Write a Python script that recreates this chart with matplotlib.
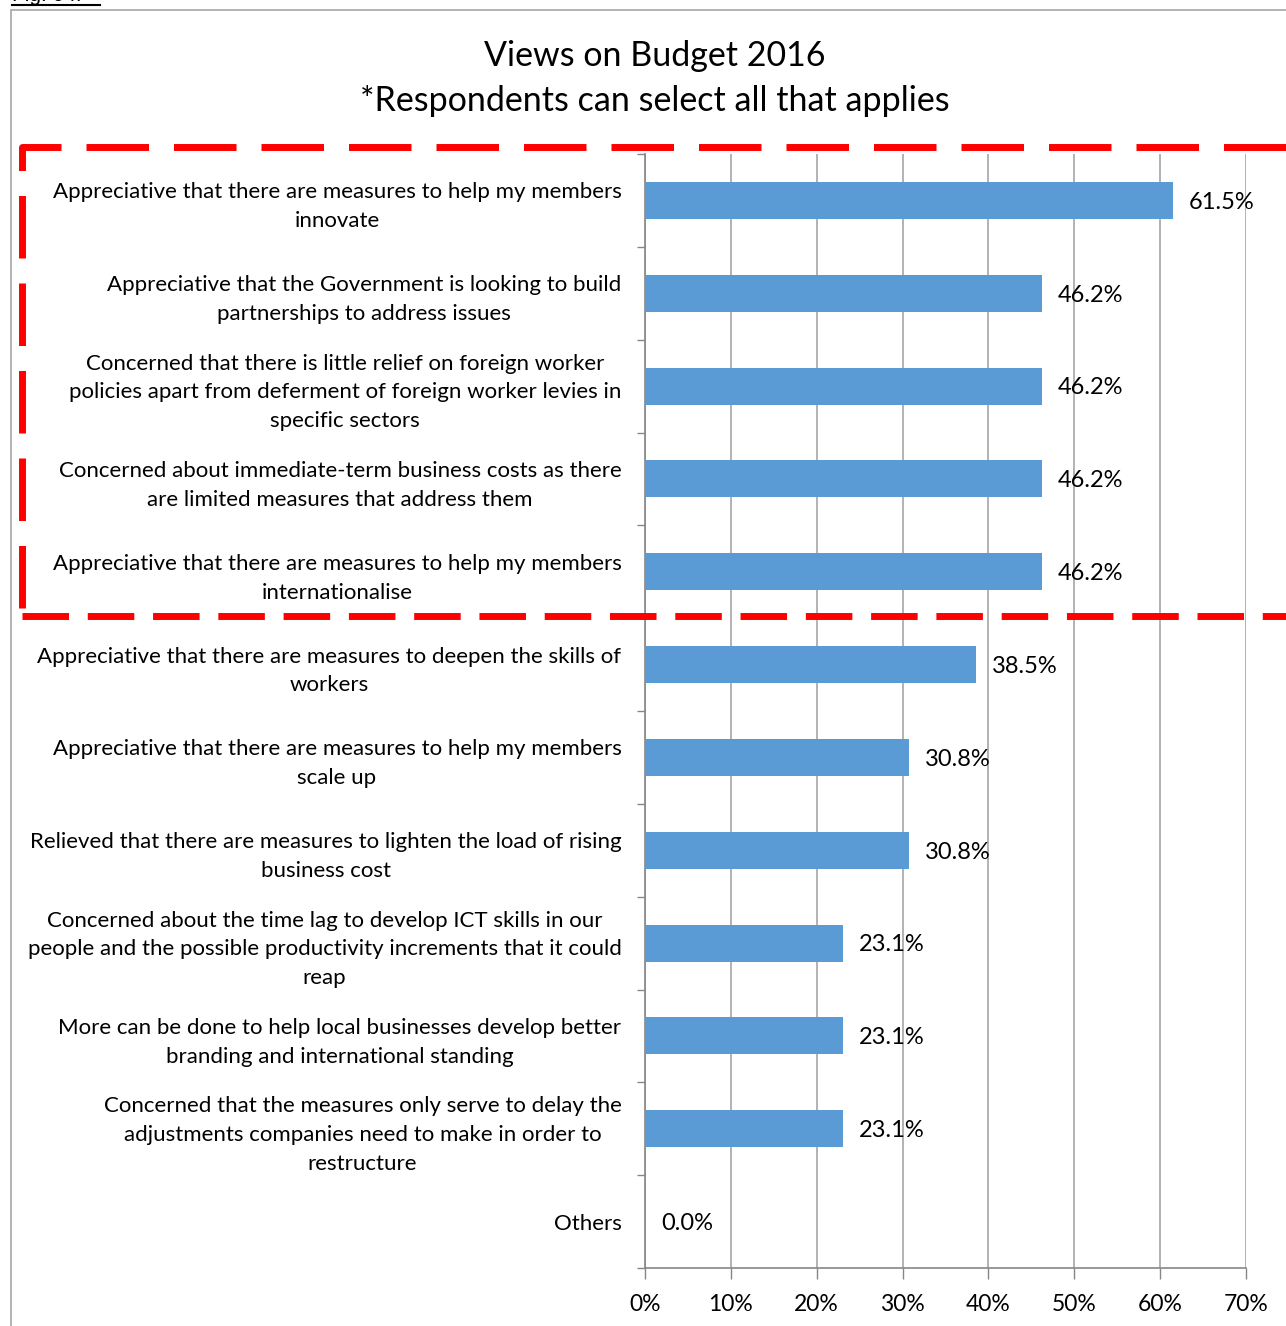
import matplotlib
matplotlib.use('Agg')
import matplotlib.pyplot as plt
from matplotlib.lines import Line2D
from matplotlib.patches import Rectangle

plt.rcParams['font.family'] = ['Lato', 'DejaVu Sans']

## survey answers, top to bottom
categories = [
    'Appreciative that there are measures to help my members\ninnovate',
    'Appreciative that the Government is looking to build\npartnerships to address issues',
    'Concerned that there is little relief on foreign worker\npolicies apart from deferment of foreign worker levies in\nspecific sectors',
    'Concerned about immediate-term business costs as there\nare limited measures that address them',
    'Appreciative that there are measures to help my members\ninternationalise',
    'Appreciative that there are measures to deepen the skills of\nworkers',
    'Appreciative that there are measures to help my members\nscale up',
    'Relieved that there are measures to lighten the load of rising\nbusiness cost',
    'Concerned about the time lag to develop ICT skills in our\npeople and the possible productivity increments that it could\nreap',
    'More can be done to help local businesses develop better\nbranding and international standing',
    'Concerned that the measures only serve to delay the\nadjustments companies need to make in order to\nrestructure',
    'Others',
]
values = [61.5, 46.2, 46.2, 46.2, 46.2, 38.5, 30.8, 30.8, 23.1, 23.1, 23.1, 0.0]
xticks = [0, 10, 20, 30, 40, 50, 60, 70]

W, H = 1286, 1326
fig = plt.figure(figsize=(W / 100, H / 100), dpi=100)

## chart frame
fig.patches.append(Rectangle((11 / W, -0.01), 1.1, 1 - 10 / H + 0.01, transform=fig.transFigure,
                             fill=False, edgecolor='#a6a6a6', linewidth=1.2))

## caption above the frame, cut by the page edge
fig.text(12 / W, 1 - 1 / H, 'Fig. 04:', fontsize=15, va='baseline', ha='left',
         family=['Liberation Sans'])
fig.lines.append(Line2D([12 / W, 100 / W], [1 - 5 / H, 1 - 5 / H], transform=fig.transFigure,
                        color='black', linewidth=1.5))

fig.text(655 / W, 1 - 56 / H, 'Views on Budget 2016', fontsize=24.5, ha='center', va='center')
fig.text(655 / W, 1 - 101 / H, '*Respondents can select all that applies', fontsize=24.5,
         ha='center', va='center')

ax = fig.add_axes([645 / W, 1 - 1268 / H, (1246 - 645) / W, (1268 - 154) / H])
ypos = list(range(len(categories)))
ax.barh(ypos, values, height=0.4, color='#5b9bd5', zorder=3)
ax.set_ylim(len(categories) - 0.5, -0.5)
ax.set_xlim(0, 70)

for y, v in zip(ypos, values):
    ax.text(v + 1.85, y + 0.02, f'{v:.1f}%', va='center', ha='left', fontsize=17, zorder=4)

ax.set_xticks(xticks)
ax.set_xticklabels([f'{t}%' for t in xticks], fontsize=16.5)
ax.set_yticks(ypos)
ax.set_yticklabels(categories, fontsize=16, multialignment='center', linespacing=1.55)
ax.tick_params(axis='y', which='major', length=0, pad=17)
ax.set_yticks([i - 0.5 for i in range(len(categories) + 1)], minor=True)
ax.tick_params(axis='y', which='minor', length=6, color='#868686', width=1)
ax.tick_params(axis='x', length=8, color='#868686', width=1, pad=11)

ax.grid(axis='x', color='#a6a6a6', linewidth=1.2, zorder=0)
for s in ['top', 'right']:
    ax.spines[s].set_visible(False)
for s in ['left', 'bottom']:
    ax.spines[s].set_color('#868686')
    ax.spines[s].set_linewidth(1.2)

## red dashed box round the top five answers
x0, x1 = 22 / W, 1.0
yt, yb = 1 - 147 / H, 1 - 616 / H
fig.lines.append(Line2D([x1, x0, x0], [yt, yt, yb], transform=fig.transFigure, color='#ff0000',
                        linewidth=5, linestyle=(0, (9, 3.6)), solid_capstyle='butt',
                        dash_capstyle='butt', zorder=5))
fig.lines.append(Line2D([x0, x1], [yb, yb], transform=fig.transFigure, color='#ff0000',
                        linewidth=5, linestyle=(0, (6.7, 2.7)), dash_capstyle='butt', zorder=5))

fig.savefig('out.png', dpi=100)
